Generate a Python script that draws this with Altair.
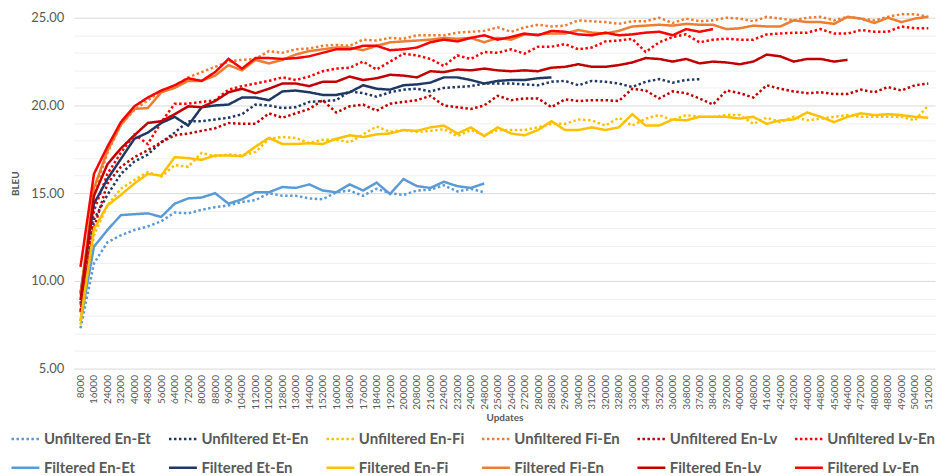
import altair as alt
import pandas as pd

updates = list(range(8000, 512001, 8000))

series_names = [
    "Unfiltered En-Et", "Unfiltered Et-En", "Unfiltered En-Fi",
    "Unfiltered Fi-En", "Unfiltered En-Lv", "Unfiltered Lv-En",
    "Filtered En-Et", "Filtered Et-En", "Filtered En-Fi",
    "Filtered Fi-En", "Filtered En-Lv", "Filtered Lv-En",
]
series_colors = [
    "#5B9BD5", "#1F3864", "#FFC000", "#ED7D31", "#C00000", "#FF0000",
    "#5B9BD5", "#1F3864", "#FFC000", "#ED7D31", "#C00000", "#FF0000",
]

unf_en_et = [7.3, 11.0, 12.2, 12.6, 12.9, 13.1, 13.4, 13.9, 13.85, 14.05,
             14.2, 14.3, 14.5, 14.6, 15.0, 14.85, 14.85, 14.7, 14.65, 15.05,
             15.15, 14.85, 15.25, 15.0, 14.9, 15.15, 15.2, 15.45, 15.1, 15.25,
             15.05]
fil_en_et = [7.7, 11.95, 12.9, 13.75, 13.8, 13.85, 13.65, 14.4, 14.7, 14.75,
             15.0, 14.4, 14.65, 15.05, 15.05, 15.35, 15.3, 15.5, 15.15, 15.05,
             15.5, 15.15, 15.6, 14.95, 15.8, 15.4, 15.3, 15.65, 15.4, 15.3,
             15.55]
unf_et_en = [8.7, 13.5, 14.9, 16.1, 16.8, 17.2, 17.9, 18.45, 19.1, 19.1,
             19.2, 19.3, 19.5, 20.05, 20.0, 19.85, 19.9, 20.2, 20.25, 20.3,
             20.8, 20.7, 20.5, 20.75, 20.9, 20.95, 20.8, 21.0, 21.05, 21.1,
             21.25, 21.25, 21.25, 21.2, 21.15, 21.35, 21.4, 21.15, 21.4, 21.35,
             21.25, 21.05, 21.35, 21.5, 21.3, 21.45, 21.5]
fil_et_en = [9.3, 14.4, 15.8, 16.95, 18.1, 18.45, 19.0, 19.35, 18.85, 19.9,
             20.0, 20.05, 20.45, 20.45, 20.3, 20.8, 20.85, 20.75, 20.6, 20.6,
             20.75, 21.15, 20.95, 20.9, 21.15, 21.2, 21.3, 21.6, 21.6, 21.45,
             21.25, 21.4, 21.45, 21.45, 21.55, 21.6]
unf_en_fi = [7.5, 12.6, 14.3, 15.25, 15.75, 16.2, 15.95, 16.6, 16.5, 17.3,
             17.1, 17.2, 17.15, 17.35, 18.1, 18.2, 18.15, 17.85, 18.05, 18.05,
             17.9, 18.35, 18.8, 18.5, 18.6, 18.5, 18.55, 18.65, 18.25, 18.6,
             18.3, 18.6, 18.6, 18.6, 18.75, 18.95, 18.95, 19.2, 19.15, 18.85,
             19.3, 18.85, 19.25, 19.45, 19.15, 19.45, 19.35, 19.35, 19.45, 19.45,
             18.95, 19.3, 19.05, 19.35, 19.15, 19.25, 19.35, 19.45, 19.35, 19.35,
             19.35, 19.35, 19.15, 20.0]
fil_en_fi = [7.7, 12.95, 14.3, 14.9, 15.55, 16.1, 16.0, 17.05, 17.0, 16.9,
             17.15, 17.15, 17.1, 17.65, 18.15, 17.8, 17.8, 17.85, 17.8, 18.1,
             18.3, 18.2, 18.35, 18.4, 18.6, 18.55, 18.75, 18.85, 18.4, 18.75,
             18.25, 18.75, 18.4, 18.3, 18.6, 19.1, 18.6, 18.6, 18.75, 18.6,
             18.75, 19.5, 18.85, 18.85, 19.2, 19.15, 19.35, 19.35, 19.35, 19.25,
             19.35, 18.95, 19.15, 19.2, 19.6, 19.35, 19.05, 19.35, 19.55, 19.45,
             19.5, 19.45, 19.35, 19.3]
unf_fi_en = [8.6, 15.0, 17.3, 18.9, 19.75, 20.3, 20.8, 21.1, 21.6, 21.9,
             22.2, 22.5, 22.6, 22.65, 23.1, 23.0, 23.2, 23.25, 23.4, 23.45,
             23.4, 23.75, 23.7, 23.85, 23.8, 24.0, 24.0, 24.0, 24.15, 24.2,
             24.25, 24.45, 24.2, 24.45, 24.6, 24.5, 24.55, 24.85, 24.8, 24.75,
             24.65, 24.8, 24.8, 25.0, 24.7, 24.95, 24.8, 24.85, 25.0, 24.95,
             24.8, 25.05, 24.95, 24.85, 25.0, 25.05, 24.85, 25.05, 24.95, 24.85,
             25.05, 25.2, 25.2, 25.05]
fil_fi_en = [9.2, 15.3, 17.4, 18.9, 19.8, 19.85, 20.75, 21.0, 21.4, 21.4,
             21.7, 22.3, 22.0, 22.6, 22.4, 22.6, 22.9, 23.1, 23.2, 23.3,
             23.3, 23.15, 23.4, 23.6, 23.65, 23.7, 23.75, 23.85, 23.8, 23.85,
             23.6, 23.85, 23.75, 24.05, 24.05, 24.1, 24.1, 24.3, 24.15, 24.1,
             24.25, 24.5, 24.55, 24.6, 24.55, 24.65, 24.6, 24.6, 24.35, 24.4,
             24.55, 24.5, 24.5, 24.85, 24.75, 24.75, 24.65, 25.05, 24.95, 24.7,
             25.0, 24.75, 24.95, 25.05]
unf_en_lv = [8.3, 13.0, 15.55, 16.5, 17.05, 17.45, 17.9, 18.3, 18.4, 18.55,
             18.7, 19.0, 18.95, 18.95, 19.55, 19.3, 19.55, 19.8, 20.3, 19.6,
             19.95, 20.05, 19.7, 20.1, 20.2, 20.3, 20.55, 20.0, 19.9, 19.8,
             20.0, 20.55, 20.3, 20.4, 20.4, 19.9, 20.35, 20.25, 20.3, 20.3,
             20.25, 20.95, 20.85, 20.4, 20.8, 20.7, 20.4, 20.05, 20.85, 20.7,
             20.45, 21.15, 20.95, 20.8, 20.7, 20.75, 20.65, 20.65, 20.9, 20.75,
             21.05, 20.85, 21.15, 21.25]
fil_en_lv = [8.9, 14.85, 16.65, 17.55, 18.3, 19.0, 19.1, 19.5, 19.95, 19.9,
             20.25, 20.75, 20.95, 20.7, 20.95, 21.25, 21.25, 21.1, 21.35, 21.35,
             21.65, 21.45, 21.55, 21.75, 21.7, 21.6, 21.95, 21.9, 22.05, 22.0,
             22.1, 22.0, 21.95, 22.0, 21.95, 22.15, 22.2, 22.35, 22.2, 22.2,
             22.3, 22.45, 22.7, 22.65, 22.5, 22.65, 22.4, 22.5, 22.45, 22.35,
             22.5, 22.9, 22.8, 22.5, 22.65, 22.65, 22.5, 22.6]
unf_lv_en = [8.2, 14.0, 16.1, 17.3, 18.35, 17.8, 19.05, 20.1, 20.1, 20.2,
             20.3, 20.9, 21.1, 21.25, 21.4, 21.6, 21.45, 21.65, 21.95, 22.1,
             22.15, 22.5, 22.05, 22.5, 22.95, 22.85, 22.65, 22.25, 22.85, 22.65,
             23.05, 23.0, 23.2, 22.95, 23.35, 23.35, 23.5, 23.2, 23.3, 23.65,
             23.7, 23.8, 23.05, 23.6, 23.9, 24.05, 23.6, 23.75, 23.8, 23.75,
             23.75, 24.05, 24.1, 24.15, 24.15, 24.35, 24.1, 24.1, 24.3, 24.2,
             24.2, 24.5, 24.4, 24.4]
fil_lv_en = [10.8, 16.1, 17.65, 19.05, 19.95, 20.45, 20.85, 21.15, 21.55, 21.4,
             21.9, 22.65, 22.1, 22.7, 22.7, 22.65, 22.7, 22.8, 23.0, 23.2,
             23.2, 23.4, 23.4, 23.15, 23.2, 23.3, 23.6, 23.75, 23.65, 23.85,
             24.0, 23.75, 23.9, 24.1, 24.0, 24.25, 24.2, 24.05, 24.0, 24.15,
             24.0, 24.05, 24.15, 24.2, 24.0, 24.35, 24.2, 24.35]

series_values = [unf_en_et, unf_et_en, unf_en_fi, unf_fi_en, unf_en_lv, unf_lv_en,
                 fil_en_et, fil_et_en, fil_en_fi, fil_fi_en, fil_en_lv, fil_lv_en]

rows = []
for name, vals in zip(series_names, series_values):
    for u, v in zip(updates, vals):
        rows.append({"Updates": u, "BLEU": v, "Series": name})
df = pd.DataFrame(rows)
df_unf = df[df["Series"].str.startswith("Unfiltered")]
df_fil = df[df["Series"].str.startswith("Filtered")]

FONT = "Lato"
GRAY = "#595959"

legend = alt.Legend(
    title=None, orient="none", legendX=-64, legendY=407,
    direction="horizontal", columns=6,
    symbolType="stroke", symbolSize=784, symbolStrokeWidth=2.5,
    labelFont=FONT, labelFontSize=15, labelFontWeight="bold", labelColor=GRAY,
    labelOffset=3, labelLimit=300, columnPadding=12, rowPadding=5,
)

dash_range = [[2.5, 2.5]] * 6 + [[1, 0]] * 6

x_enc = alt.X(
    "Updates:O",
    sort=updates,
    scale=alt.Scale(paddingInner=0, paddingOuter=0.5),
    axis=alt.Axis(
        title="Updates", labelAngle=-90, labelFont=FONT, labelFontSize=10,
        labelColor=GRAY, labelPadding=6, ticks=False, tickSize=0, domain=False,
        grid=False, titleFont=FONT, titleFontSize=10, titleFontWeight="bold",
        titleColor=GRAY, titlePadding=3,
    ),
)
y_enc = alt.Y(
    "BLEU:Q",
    scale=alt.Scale(domain=[5, 25], nice=False, zero=False),
    axis=alt.Axis(
        title="BLEU", values=list(range(5, 26)),
        labelExpr="datum.value % 5 === 0 ? format(datum.value, '.2f') : ''",
        labelFont=FONT, labelFontSize=13, labelColor=GRAY, labelPadding=10,
        ticks=False, tickSize=0, domain=False,
        gridColor={"condition": {"test": "datum.value % 5 === 0", "value": "#D9D9D9"},
                   "value": "#F0F0F0"},
        gridWidth=1,
        titleFont=FONT, titleFontSize=10, titleFontWeight="bold",
        titleColor=GRAY, titlePadding=10, titleY=166,
    ),
)
color_enc = alt.Color("Series:N", scale=alt.Scale(domain=series_names, range=series_colors),
                      legend=legend)
dash_enc = alt.StrokeDash("Series:N", scale=alt.Scale(domain=series_names, range=dash_range),
                          legend=legend)

unf = alt.Chart(df_unf).mark_line(strokeWidth=2.5).encode(
    x=x_enc, y=y_enc, color=color_enc, strokeDash=dash_enc)
fil = alt.Chart(df_fil).mark_line(strokeWidth=2.5).encode(
    x=x_enc, y=y_enc, color=color_enc, strokeDash=dash_enc)

chart = alt.layer(unf, fil).properties(
    width=864, height=352,
    padding={"left": 2, "top": 0, "right": 2, "bottom": 2},
    background="white",
).configure_view(stroke=None)

chart.save("out.html", embed_options={"renderer": "svg", "actions": False})
